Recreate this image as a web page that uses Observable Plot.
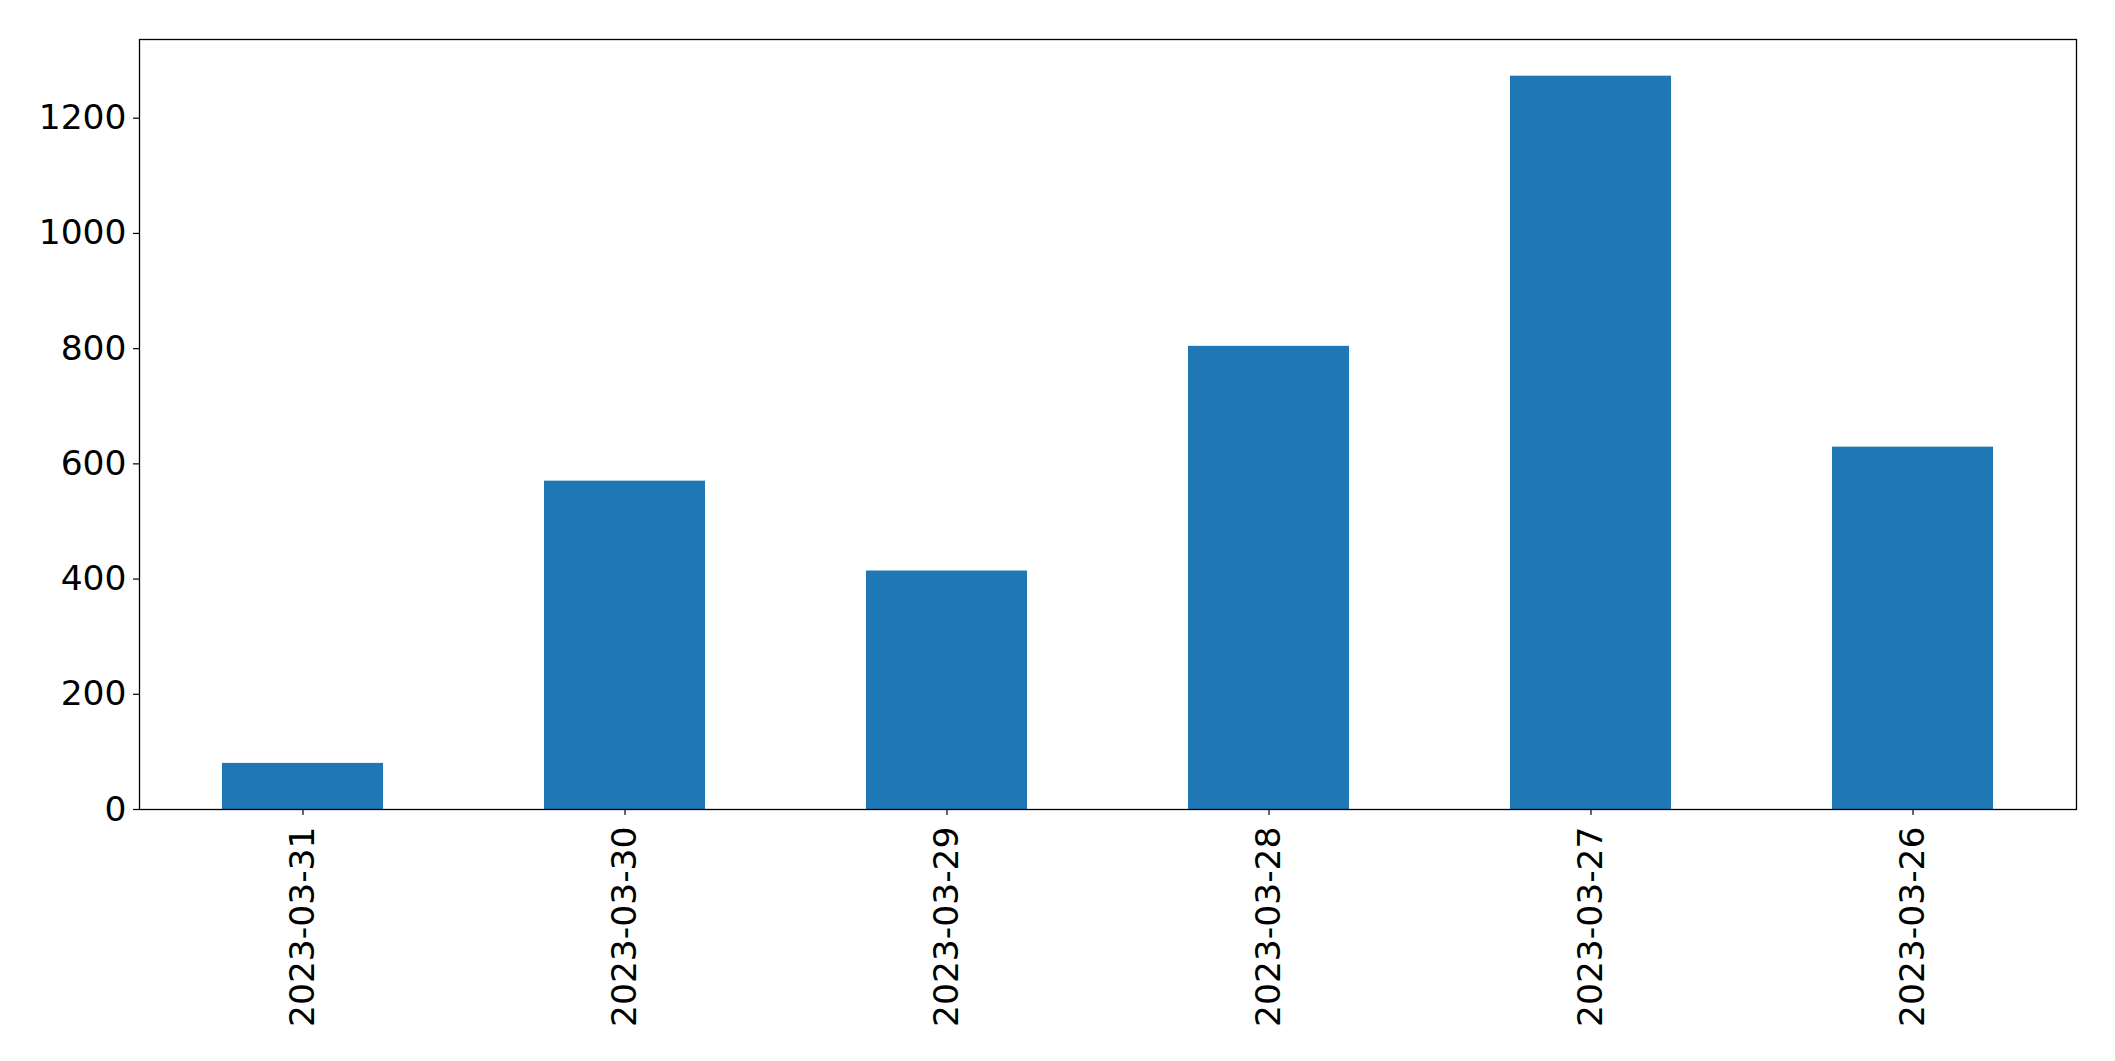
<!DOCTYPE html>
<html>
<head>
<meta charset="utf-8">
<script src="https://cdn.jsdelivr.net/npm/d3@7"></script>
<script src="https://cdn.jsdelivr.net/npm/@observablehq/plot@0.6"></script>
<style>
  html, body { margin: 0; padding: 0; background: #fff; }
  #chart svg { display: block; }
</style>
</head>
<body>
<div id="chart"></div>
<script>
const dates = ["2023-03-31", "2023-03-30", "2023-03-29", "2023-03-28", "2023-03-27", "2023-03-26"];
const counts = [80, 570, 414, 804, 1273, 629];
const yTicks = [0, 200, 400, 600, 800, 1000, 1200];

const data = dates.map((d, i) => ({date: d, count: counts[i]}));
const yMax = d3.max(counts) * 1.05;

const chart = Plot.plot({
  width: 2115,
  height: 1061,
  marginLeft: 139,
  marginRight: 39,
  marginTop: 39,
  marginBottom: 252,
  style: {fontFamily: "DejaVu Sans", fontSize: "34.5px", color: "#000", background: "#fff"},
  x: {domain: dates, paddingInner: 0.5, paddingOuter: 0.25, label: null},
  y: {domain: [0, yMax], label: null},
  marks: [
    Plot.barY(data, {x: "date", y: "count", fill: "#1f77b4"}),
    Plot.axisY({ticks: yTicks, tickFormat: d3.format("d"), tickSize: 6, tickPadding: 7, label: null, fontSize: 34.5, stroke: "#000", strokeWidth: 1.2}),
    Plot.axisX({tickSize: 6, tickPadding: 11, tickRotate: -90, label: null, fontSize: 34.5, stroke: "#000", strokeWidth: 1.2}),
    Plot.frame({stroke: "#000", strokeWidth: 1.3})
  ]
});
document.getElementById("chart").appendChild(chart);
</script>
</body>
</html>
